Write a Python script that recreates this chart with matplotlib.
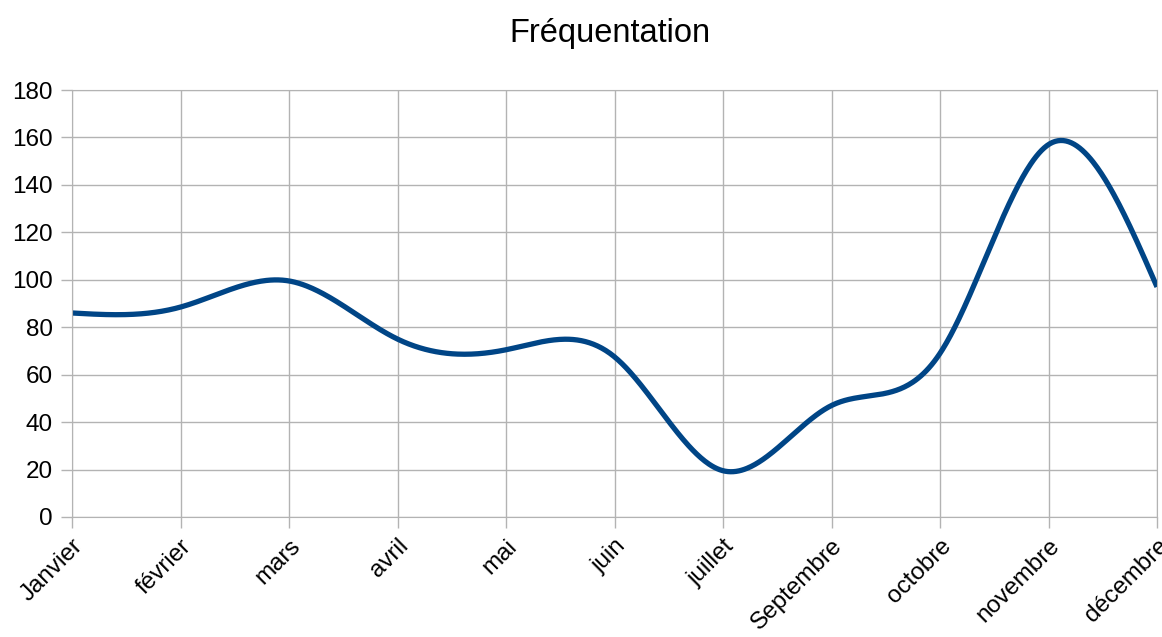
import numpy as np
import matplotlib.pyplot as plt

plt.rcParams['font.family'] = ['Liberation Sans', 'DejaVu Sans']

# Data
months = ['Janvier', 'février', 'mars', 'avril', 'mai', 'juin', 'juillet',
          'Septembre', 'octobre', 'novembre', 'décembre']
visits = [86, 88.5, 99.5, 75, 70.5, 67.5, 19.5, 47, 69, 157, 97]


def natural_spline(x, y, xs):
    # natural cubic spline, like the "cubic spline" smoothing of the original
    x = np.asarray(x, float)
    y = np.asarray(y, float)
    n = len(x)
    h = np.diff(x)
    A = np.zeros((n, n))
    b = np.zeros(n)
    A[0, 0] = A[-1, -1] = 1
    for i in range(1, n - 1):
        A[i, i - 1] = h[i - 1]
        A[i, i] = 2 * (h[i - 1] + h[i])
        A[i, i + 1] = h[i]
        b[i] = 6 * ((y[i + 1] - y[i]) / h[i] - (y[i] - y[i - 1]) / h[i - 1])
    M = np.linalg.solve(A, b)
    idx = np.clip(np.searchsorted(x, xs) - 1, 0, n - 2)
    x0, x1 = x[idx], x[idx + 1]
    hh = x1 - x0
    t0, t1 = x1 - xs, xs - x0
    return (M[idx] * t0**3 / (6 * hh) + M[idx + 1] * t1**3 / (6 * hh)
            + (y[idx] / hh - M[idx] * hh / 6) * t0
            + (y[idx + 1] / hh - M[idx + 1] * hh / 6) * t1)


pos = np.arange(len(months))
xs = np.linspace(0, len(months) - 1, 800)
ys = natural_spline(pos, visits, xs)

fig = plt.figure(figsize=(11.62, 6.37), dpi=100)
ax = fig.add_axes([0.062, 0.1884, 0.9337, 0.6703])

ax.plot(xs, ys, color='#004586', lw=3.8, solid_capstyle='butt')

ax.set_xlim(0, len(months) - 1)
ax.set_ylim(0, 180)
ax.set_yticks(range(0, 181, 20))
ax.set_xticks(pos)
ax.set_xticklabels(months, rotation=45, ha='right', rotation_mode='anchor')
ax.tick_params(labelsize=17.5, color='#b3b3b3', length=8, width=1)
ax.tick_params(axis='y', pad=6)
ax.tick_params(axis='x', pad=5)
ax.grid(True, color='#b3b3b3', lw=1)
ax.set_axisbelow(True)
for s in ax.spines.values():
    s.set_color('#b3b3b3')

fig.text(0.525, (637 - 42) / 637, 'Fréquentation', ha='center',
         va='baseline', fontsize=23.5)

fig.savefig('out.png', dpi=100)
